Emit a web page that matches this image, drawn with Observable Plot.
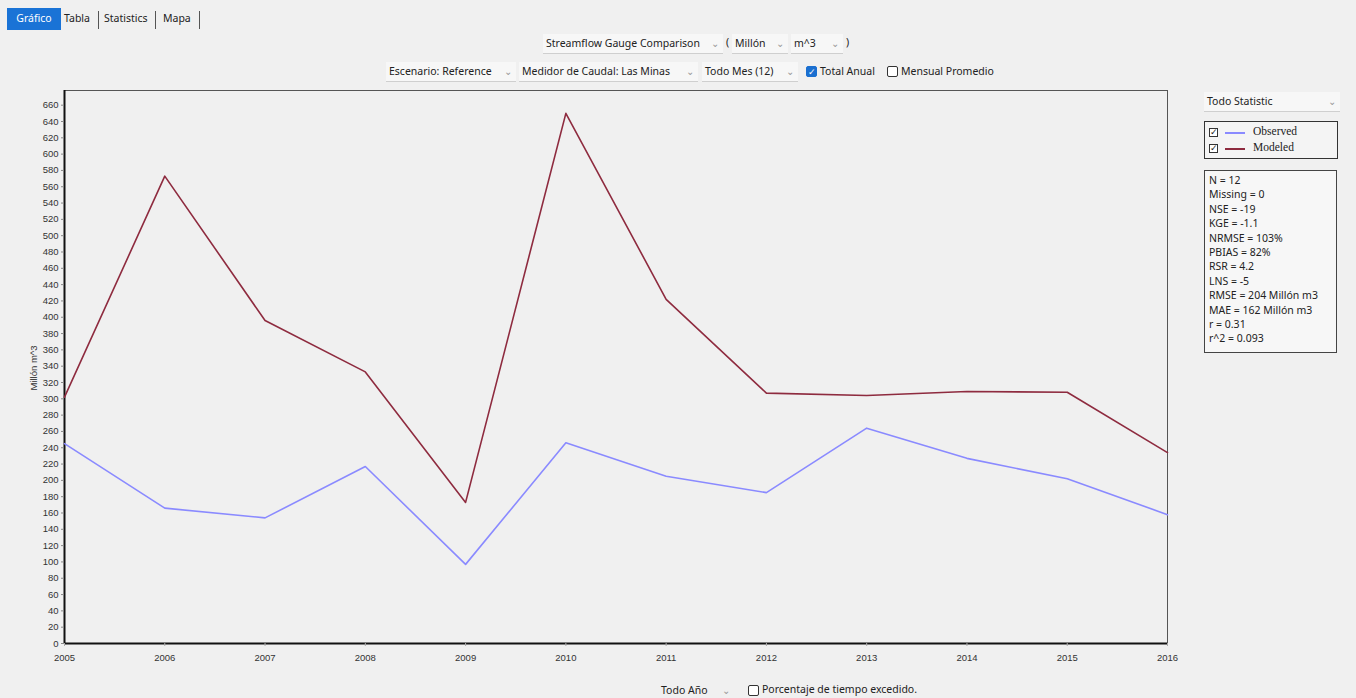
<!DOCTYPE html>
<html>
<head>
<meta charset="utf-8">
<script src="https://cdn.jsdelivr.net/npm/d3@7"></script>
<script src="https://cdn.jsdelivr.net/npm/@observablehq/plot@0.6"></script>
<style>
  html, body { margin: 0; padding: 0; }
  body { width: 1356px; height: 698px; background: #f0f0f0; position: relative; overflow: hidden;
         font-family: "Noto Sans", "Open Sans", sans-serif; font-size: 11px; color: #222; }
  .abs { position: absolute; white-space: nowrap; }
  .tab { position: absolute; top: 8px; height: 22px; line-height: 20px; font-size: 10.5px; }
  .dd { position: absolute; height: 20px; line-height: 19px; background: #f7f7f7; border-bottom: 1px solid #cfcfcf; padding-left: 3px; box-sizing: border-box; white-space: nowrap; font-size: 10.5px; }
  .dd .chev { position: absolute; right: 4px; top: 0; color: #999; font-size: 10px; }
  .cb { position: absolute; width: 11px; height: 11px; box-sizing: border-box; border: 1px solid #333; border-radius: 2px; background: #fff; }
  .cb.on { background: #1a6fd0; border-color: #1a6fd0; color: #fff; font-size: 9px; line-height: 9px; text-align: center; }
  #chart { position: absolute; left: 0; top: 80px; }
  .legendbox { position: absolute; left: 1204px; top: 121px; width: 134px; height: 38px; border: 1px solid #333; box-sizing: border-box; background: #f4f4f4; font-family: "Liberation Serif", "DejaVu Serif", serif; font-size: 11.5px; }
  .lrow { position: absolute; left: 4px; height: 14px; }
  .lcb { position: absolute; left: 0; top: 2px; width: 9px; height: 9px; border: 1px solid #333; box-sizing: border-box; font-size: 9px; line-height: 7px; background: #fff; }
  .lline { position: absolute; left: 16px; top: 6px; width: 20px; height: 2px; }
  .ltxt { position: absolute; left: 44px; top: -1px; }
  .stats { position: absolute; left: 1204px; top: 170px; width: 133px; height: 183px; border: 1px solid #444; box-sizing: border-box; background: #f7f7f7; font-size: 10.5px; line-height: 14.4px; padding: 2px 0 0 4px; font-family: "Noto Sans", sans-serif; color: #222; }
</style>
</head>
<body>
<script>
// ---- data ----
const years = [2005, 2006, 2007, 2008, 2009, 2010, 2011, 2012, 2013, 2014, 2015, 2016];
const observed = [245, 166, 154, 217, 97, 246, 205, 185, 264, 227, 202, 158];
const modeled = [302, 573, 396, 333, 173, 650, 422, 307, 304, 309, 308, 234];
const seriesNames = ["Observed", "Modeled"];
const seriesColors = ["#8a8aff", "#8e2b3f"];
const yTicks = d3.range(0, 661, 20);
const xTicks = years;
const statLines = ["N = 12", "Missing = 0", "NSE = -19", "KGE = -1.1", "NRMSE = 103%", "PBIAS = 82%", "RSR = 4.2", "LNS = -5", "RMSE = 204 Millón m3", "MAE = 162 Millón m3", "r = 0.31", "r^2 = 0.093"];

const rows = [];
years.forEach((y, i) => {
  rows.push({year: y, value: observed[i], series: seriesNames[0]});
  rows.push({year: y, value: modeled[i], series: seriesNames[1]});
});

function el(html) { const d = document.createElement("div"); d.innerHTML = html; return d.firstElementChild; }

// ---- tabs ----
document.body.append(el(`<div class="tab" style="left:7px;width:54px;background:#1a73d6;color:#fff;text-align:center;">Gráfico</div>`));
document.body.append(el(`<div class="tab" style="left:64px;">Tabla</div>`));
document.body.append(el(`<div class="abs" style="left:98px;top:11px;height:18px;border-left:1px solid #555;"></div>`));
document.body.append(el(`<div class="tab" style="left:104px;">Statistics</div>`));
document.body.append(el(`<div class="abs" style="left:155px;top:11px;height:18px;border-left:1px solid #555;"></div>`));
document.body.append(el(`<div class="tab" style="left:163px;">Mapa</div>`));
document.body.append(el(`<div class="abs" style="left:199px;top:11px;height:18px;border-left:1px solid #555;"></div>`));

// ---- top controls ----
document.body.append(el(`<div class="dd" style="left:543px;top:34px;width:180px;">Streamflow Gauge Comparison<span class="chev">⌄</span></div>`));
document.body.append(el(`<div class="abs" style="left:726px;top:35px;font-size:10.5px;">(</div>`));
document.body.append(el(`<div class="dd" style="left:732px;top:34px;width:56px;">Millón<span class="chev">⌄</span></div>`));
document.body.append(el(`<div class="dd" style="left:791px;top:34px;width:52px;">m^3<span class="chev">⌄</span></div>`));
document.body.append(el(`<div class="abs" style="left:846px;top:35px;font-size:10.5px;">)</div>`));

document.body.append(el(`<div class="dd" style="left:386px;top:62px;width:130px;">Escenario: Reference<span class="chev">⌄</span></div>`));
document.body.append(el(`<div class="dd" style="left:519px;top:62px;width:179px;">Medidor de Caudal: Las Minas<span class="chev">⌄</span></div>`));
document.body.append(el(`<div class="dd" style="left:702px;top:62px;width:96px;">Todo Mes (12)<span class="chev">⌄</span></div>`));
document.body.append(el(`<div class="cb on" style="left:806px;top:66px;">✓</div>`));
document.body.append(el(`<div class="abs" style="left:820px;top:64px;font-size:10.5px;">Total Anual</div>`));
document.body.append(el(`<div class="cb" style="left:887px;top:66px;"></div>`));
document.body.append(el(`<div class="abs" style="left:901px;top:64px;font-size:10.5px;">Mensual Promedio</div>`));

// ---- chart ----
const W = 1180, H = 600;
const chart = Plot.plot({
  width: W, height: H,
  marginLeft: 64, marginRight: 13, marginTop: 10, marginBottom: 37,
  style: {background: "transparent", fontFamily: "'Liberation Sans Narrow', 'Arial Narrow', 'Liberation Sans', sans-serif", fontSize: "9.5px", color: "#333"},
  x: {domain: [2005, 2016], ticks: xTicks, tickFormat: "d", label: null},
  y: {domain: [0, 678], ticks: yTicks, label: null},
  marks: [
    Plot.frame({stroke: "#555", strokeWidth: 1}),
    Plot.ruleX([2005], {stroke: "#111", strokeWidth: 2}),
    Plot.ruleY([0], {stroke: "#111", strokeWidth: 2}),
    Plot.axisY({ticks: yTicks, tickSize: 3, tickPadding: 3, stroke: "#888", label: null}),
    Plot.axisX({ticks: xTicks, tickFormat: "d", tickSize: 3, tickPadding: 8, stroke: "#aaa", label: null}),
    Plot.line(rows, {x: "year", y: "value", z: "series", stroke: "series", strokeWidth: 1.6}),
  ],
  color: {domain: seriesNames, range: seriesColors}
});
chart.id = "chart";
document.body.append(chart);

// y axis title
document.body.append(el(`<div class="abs" style="left:33px;top:368px;transform:translate(-50%,-50%) rotate(-90deg);font-family:'Liberation Sans Narrow','Liberation Sans',sans-serif;font-size:9.5px;color:#333;">Millón m^3</div>`));

// ---- right panel ----
document.body.append(el(`<div class="dd" style="left:1204px;top:92px;width:136px;">Todo Statistic<span class="chev">⌄</span></div>`));
const lb = el(`<div class="legendbox"></div>`);
seriesNames.forEach((n, i) => {
  lb.append(el(`<div class="lrow" style="top:${4 + i * 16}px;"><div class="lcb">✓</div><div class="lline" style="background:${seriesColors[i]}"></div><div class="ltxt">${n}</div></div>`));
});
document.body.append(lb);
const st = el(`<div class="stats"></div>`);
st.innerHTML = statLines.map(s => `<div>${s}</div>`).join("");
document.body.append(st);

// ---- bottom controls ----
document.body.append(el(`<div class="dd" style="left:658px;top:681px;width:76px;border-bottom:none;background:transparent;">Todo Año<span class="chev">⌄</span></div>`));
document.body.append(el(`<div class="cb" style="left:748px;top:685px;"></div>`));
document.body.append(el(`<div class="abs" style="left:762px;top:682px;font-size:10.5px;">Porcentaje de tiempo excedido.</div>`));
</script>
</body>
</html>
